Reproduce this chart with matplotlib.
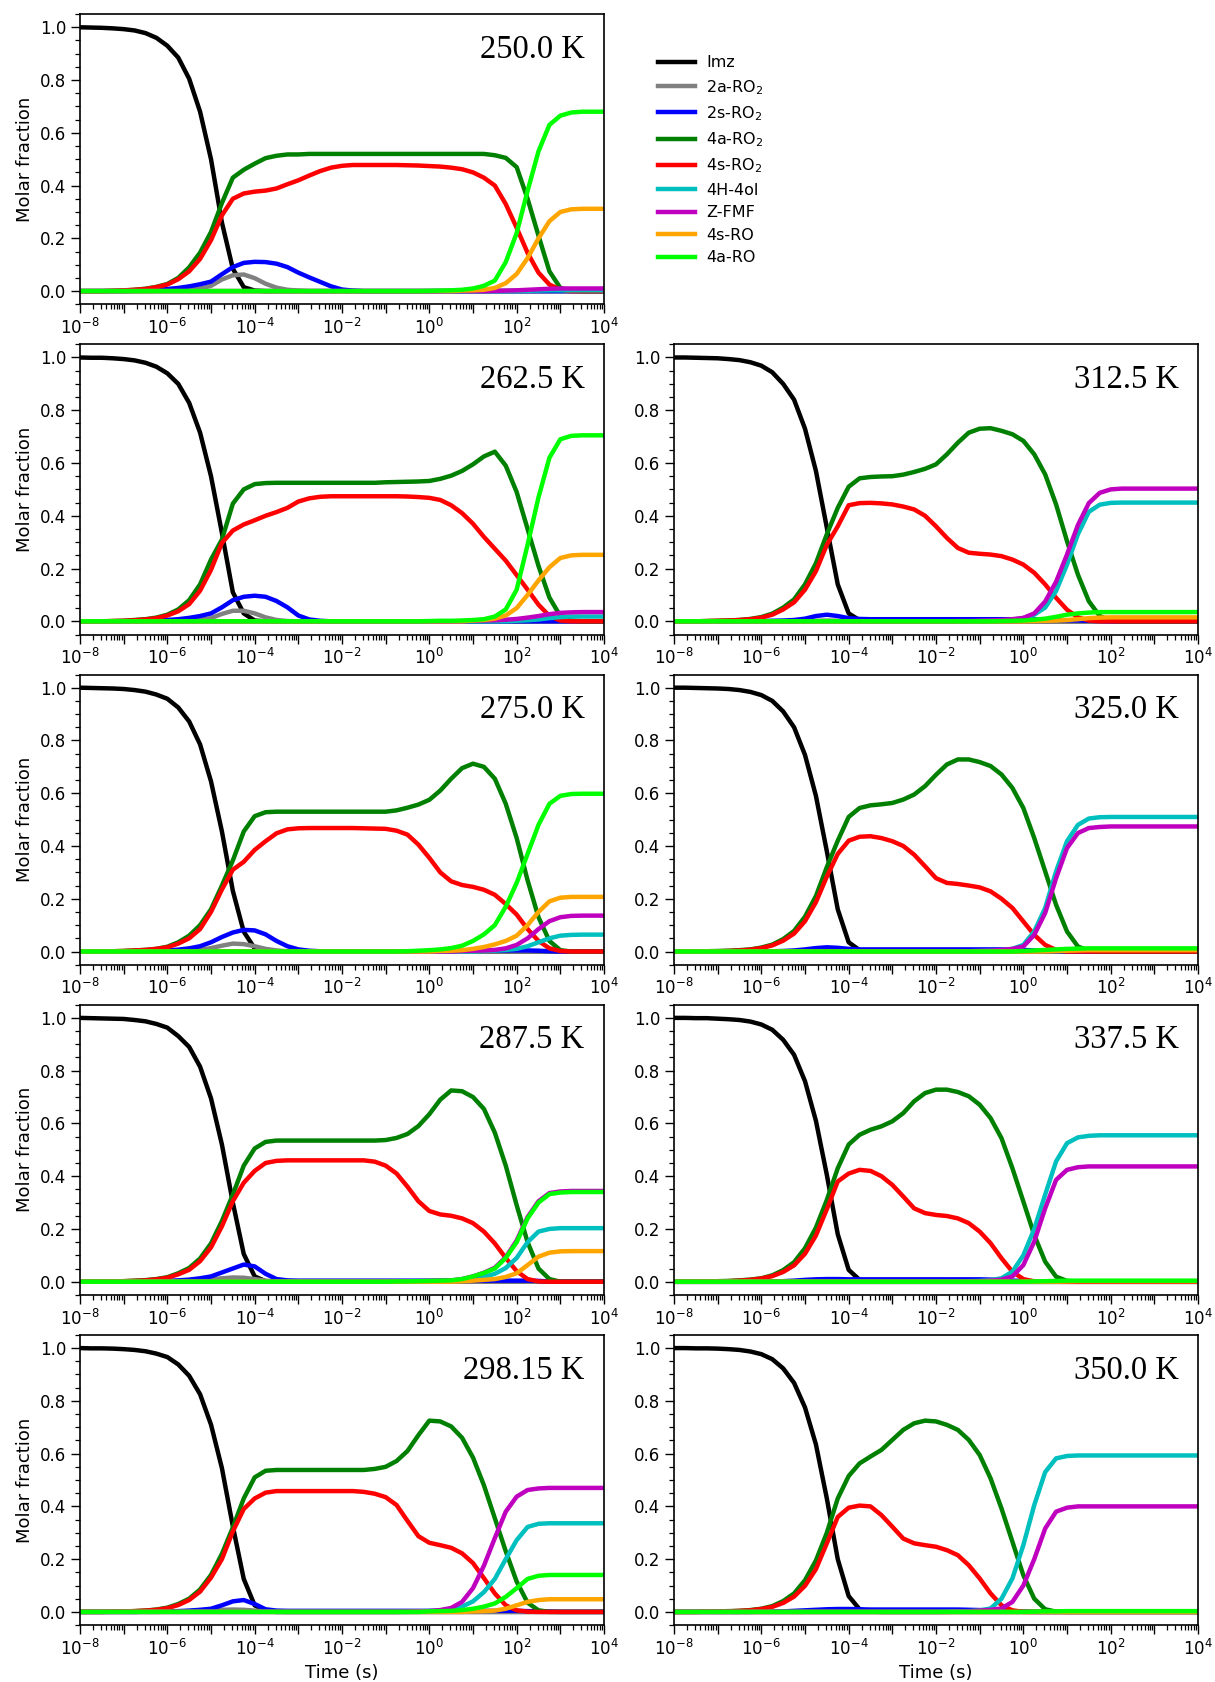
import numpy as np
import matplotlib
matplotlib.use("Agg")
import matplotlib.pyplot as plt
from matplotlib.lines import Line2D
from matplotlib.ticker import FixedLocator, FuncFormatter, LogLocator, MultipleLocator, NullFormatter

log_time = np.linspace(-8, 4, 49)
time = 10 ** log_time

species = ["Imz", "2a-RO$_2$", "2s-RO$_2$", "4a-RO$_2$", "4s-RO$_2$",
           "4H-4ol", "Z-FMF", "4s-RO", "4a-RO"]
colors = ["black", "grey", "blue", "green", "red", "c", "m", "orange", "lime"]

# ---------------- 250.0 K ----------------
imz_250 = [1, 0.999, 0.998, 0.996, 0.993, 0.988, 0.978, 0.96,
           0.93, 0.885, 0.805, 0.68, 0.5, 0.26, 0.085, 0.015,
           0.002, 0, 0, 0, 0, 0, 0, 0,
           0, 0, 0, 0, 0, 0, 0, 0,
           0, 0, 0, 0, 0, 0, 0, 0,
           0, 0, 0, 0, 0, 0, 0, 0, 0]
a2_250 = [0, 0, 0, 0, 0, 0, 0, 0.001,
          0.002, 0.003, 0.005, 0.01, 0.02, 0.044, 0.06, 0.063,
          0.049, 0.028, 0.013, 0.005, 0.002, 0, 0, 0,
          0, 0, 0, 0, 0, 0, 0, 0,
          0, 0, 0, 0, 0, 0, 0, 0,
          0, 0, 0, 0, 0, 0, 0, 0, 0]
s2_250 = [0, 0, 0, 0, 0, 0.001, 0.003, 0.005,
          0.008, 0.012, 0.018, 0.026, 0.036, 0.064, 0.091, 0.107,
          0.111, 0.11, 0.104, 0.091, 0.07, 0.052, 0.035, 0.018,
          0.006, 0.002, 0, 0, 0, 0, 0, 0,
          0, 0, 0, 0, 0, 0, 0, 0,
          0, 0, 0, 0, 0, 0, 0, 0, 0]
a4_250 = [0, 0, 0, 0.001, 0.002, 0.005, 0.009, 0.016,
          0.027, 0.05, 0.09, 0.146, 0.224, 0.334, 0.43, 0.46,
          0.483, 0.504, 0.513, 0.518, 0.518, 0.52, 0.52, 0.52,
          0.52, 0.52, 0.52, 0.52, 0.52, 0.52, 0.52, 0.52,
          0.52, 0.52, 0.52, 0.52, 0.52, 0.52, 0.515, 0.505,
          0.47, 0.35, 0.21, 0.075, 0.012, 0.002, 0, 0, 0]
s4_250 = [0, 0, 0, 0.001, 0.003, 0.005, 0.008, 0.015,
          0.025, 0.045, 0.075, 0.122, 0.193, 0.287, 0.35, 0.37,
          0.377, 0.381, 0.389, 0.405, 0.42, 0.438, 0.455, 0.468,
          0.475, 0.478, 0.478, 0.478, 0.478, 0.478, 0.477, 0.476,
          0.474, 0.472, 0.468, 0.462, 0.45, 0.43, 0.4, 0.33,
          0.24, 0.145, 0.07, 0.025, 0.005, 0, 0, 0, 0]
ol_250 = [0, 0, 0, 0, 0, 0, 0, 0,
          0, 0, 0, 0, 0, 0, 0, 0,
          0, 0, 0, 0, 0, 0, 0, 0,
          0, 0, 0, 0, 0, 0, 0, 0,
          0, 0, 0, 0, 0, 0, 0, 0,
          0, 0.001, 0.002, 0.003, 0.003, 0.003, 0.003, 0.003, 0.003]
fmf_250 = [0, 0, 0, 0, 0, 0, 0, 0,
           0, 0, 0, 0, 0, 0, 0, 0,
           0, 0, 0, 0, 0, 0, 0, 0,
           0, 0, 0, 0, 0, 0, 0, 0,
           0, 0, 0, 0, 0, 0, 0.001, 0.002,
           0.003, 0.005, 0.007, 0.009, 0.01, 0.01, 0.01, 0.01, 0.01]
sro_250 = [0, 0, 0, 0, 0, 0, 0, 0,
           0, 0, 0, 0, 0, 0, 0, 0,
           0, 0, 0, 0, 0, 0, 0, 0,
           0, 0, 0, 0, 0, 0, 0, 0,
           0, 0, 0, 0.002, 0.003, 0.005, 0.012, 0.03,
           0.065, 0.125, 0.2, 0.265, 0.3, 0.31, 0.312, 0.312, 0.312]
aro_250 = [0, 0, 0, 0, 0, 0, 0, 0,
           0, 0, 0, 0, 0, 0, 0, 0,
           0, 0, 0, 0, 0, 0, 0, 0,
           0, 0, 0, 0, 0, 0, 0, 0,
           0.001, 0.002, 0.003, 0.005, 0.01, 0.02, 0.04, 0.11,
           0.22, 0.38, 0.53, 0.63, 0.665, 0.677, 0.68, 0.68, 0.68]

# ---------------- 262.5 K ----------------
imz_262 = [1, 0.999, 0.999, 0.997, 0.994, 0.989, 0.98, 0.965,
           0.94, 0.9, 0.828, 0.715, 0.55, 0.335, 0.11, 0.03,
           0.003, 0, 0, 0, 0, 0, 0, 0,
           0, 0, 0, 0, 0, 0, 0, 0,
           0, 0, 0, 0, 0, 0, 0, 0,
           0, 0, 0, 0, 0, 0, 0, 0, 0]
a2_262 = [0, 0, 0, 0, 0, 0, 0, 0.001,
          0.002, 0.003, 0.004, 0.006, 0.012, 0.028, 0.04, 0.04,
          0.03, 0.015, 0.005, 0.001, 0, 0, 0, 0,
          0, 0, 0, 0, 0, 0, 0, 0,
          0, 0, 0, 0, 0, 0, 0, 0,
          0, 0, 0, 0, 0, 0, 0, 0, 0]
s2_262 = [0, 0, 0, 0, 0, 0.001, 0.002, 0.003,
          0.005, 0.008, 0.013, 0.02, 0.03, 0.053, 0.08, 0.093,
          0.097, 0.093, 0.077, 0.053, 0.022, 0.007, 0.002, 0,
          0, 0, 0, 0, 0, 0, 0, 0,
          0, 0, 0, 0, 0, 0, 0, 0,
          0, 0, 0, 0, 0, 0, 0, 0, 0]
a4_262 = [0, 0, 0, 0.001, 0.002, 0.005, 0.008, 0.014,
          0.025, 0.045, 0.08, 0.14, 0.234, 0.31, 0.446, 0.5,
          0.52, 0.524, 0.525, 0.525, 0.525, 0.525, 0.525, 0.525,
          0.525, 0.525, 0.525, 0.525, 0.527, 0.528, 0.529, 0.53,
          0.532, 0.54, 0.552, 0.57, 0.595, 0.625, 0.643, 0.59,
          0.49, 0.35, 0.21, 0.09, 0.02, 0.003, 0, 0, 0]
s4_262 = [0, 0, 0, 0.001, 0.002, 0.004, 0.007, 0.012,
          0.022, 0.038, 0.065, 0.116, 0.195, 0.297, 0.344, 0.367,
          0.383, 0.4, 0.414, 0.43, 0.454, 0.466, 0.472, 0.474,
          0.474, 0.474, 0.474, 0.474, 0.474, 0.474, 0.473, 0.471,
          0.468, 0.46, 0.44, 0.41, 0.37, 0.32, 0.275, 0.23,
          0.175, 0.12, 0.063, 0.02, 0.003, 0, 0, 0, 0]
ol_262 = [0, 0, 0, 0, 0, 0, 0, 0,
          0, 0, 0, 0, 0, 0, 0, 0,
          0, 0, 0, 0, 0, 0, 0, 0,
          0, 0, 0, 0, 0, 0, 0, 0,
          0, 0, 0, 0, 0, 0, 0, 0,
          0.002, 0.004, 0.007, 0.012, 0.016, 0.018, 0.018, 0.018, 0.018]
fmf_262 = [0, 0, 0, 0, 0, 0, 0, 0,
           0, 0, 0, 0, 0, 0, 0, 0,
           0, 0, 0, 0, 0, 0, 0, 0,
           0, 0, 0, 0, 0, 0, 0, 0,
           0, 0, 0, 0, 0.002, 0.003, 0.004, 0.006,
           0.009, 0.014, 0.02, 0.027, 0.032, 0.034, 0.035, 0.035, 0.035]
sro_262 = [0, 0, 0, 0, 0, 0, 0, 0,
           0, 0, 0, 0, 0, 0, 0, 0,
           0, 0, 0, 0, 0, 0, 0, 0,
           0, 0, 0, 0, 0, 0, 0, 0,
           0, 0, 0, 0, 0.003, 0.005, 0.01, 0.022,
           0.05, 0.1, 0.155, 0.205, 0.24, 0.25, 0.252, 0.252, 0.252]
aro_262 = [0, 0, 0, 0, 0, 0, 0, 0,
           0, 0, 0, 0, 0, 0, 0, 0,
           0, 0, 0, 0, 0, 0, 0, 0,
           0, 0, 0, 0, 0, 0, 0, 0,
           0.001, 0.002, 0.002, 0.003, 0.005, 0.008, 0.018, 0.045,
           0.12, 0.29, 0.47, 0.62, 0.69, 0.703, 0.705, 0.705, 0.705]

# ---------------- 275.0 K ----------------
imz_275 = [1, 0.999, 0.998, 0.997, 0.995, 0.991, 0.985, 0.974,
           0.958, 0.925, 0.872, 0.785, 0.645, 0.455, 0.23, 0.075,
           0.012, 0.001, 0, 0, 0, 0, 0, 0,
           0, 0, 0, 0, 0, 0, 0, 0,
           0, 0, 0, 0, 0, 0, 0, 0,
           0, 0, 0, 0, 0, 0, 0, 0, 0]
a2_275 = [0, 0, 0, 0, 0, 0, 0, 0.001,
          0.002, 0.003, 0.004, 0.006, 0.013, 0.022, 0.03, 0.028,
          0.02, 0.01, 0.004, 0.001, 0, 0, 0, 0,
          0, 0, 0, 0, 0, 0, 0, 0,
          0, 0, 0, 0, 0, 0, 0, 0,
          0, 0, 0, 0, 0, 0, 0, 0, 0]
s2_275 = [0, 0, 0, 0, 0, 0.001, 0.001, 0.002,
          0.004, 0.007, 0.012, 0.02, 0.035, 0.055, 0.072, 0.082,
          0.08, 0.065, 0.04, 0.02, 0.008, 0.003, 0.001, 0.001,
          0.001, 0.001, 0.001, 0.001, 0.001, 0.001, 0.001, 0.001,
          0.001, 0.001, 0.002, 0.002, 0.003, 0.003, 0.003, 0.004,
          0.004, 0.004, 0.003, 0.001, 0, 0, 0, 0, 0]
a4_275 = [0, 0, 0, 0.001, 0.002, 0.004, 0.006, 0.01,
          0.018, 0.035, 0.06, 0.1, 0.16, 0.25, 0.345, 0.455,
          0.513, 0.528, 0.53, 0.53, 0.53, 0.53, 0.53, 0.53,
          0.53, 0.53, 0.53, 0.53, 0.53, 0.535, 0.545, 0.557,
          0.575, 0.61, 0.655, 0.695, 0.712, 0.7, 0.655, 0.56,
          0.43, 0.27, 0.13, 0.04, 0.005, 0, 0, 0, 0]
s4_275 = [0, 0, 0, 0.001, 0.002, 0.004, 0.006, 0.01,
          0.016, 0.03, 0.05, 0.085, 0.15, 0.235, 0.31, 0.34,
          0.385, 0.418, 0.448, 0.463, 0.467, 0.468, 0.468, 0.468,
          0.468, 0.468, 0.467, 0.466, 0.465, 0.458, 0.443, 0.405,
          0.355, 0.3, 0.266, 0.252, 0.245, 0.234, 0.215, 0.18,
          0.14, 0.085, 0.04, 0.012, 0.002, 0, 0, 0, 0]
ol_275 = [0, 0, 0, 0, 0, 0, 0, 0,
          0, 0, 0, 0, 0, 0, 0, 0,
          0, 0, 0, 0, 0, 0, 0, 0,
          0, 0, 0, 0, 0, 0, 0, 0,
          0, 0, 0, 0, 0, 0.002, 0.003, 0.006,
          0.01, 0.02, 0.035, 0.05, 0.06, 0.063, 0.064, 0.064, 0.064]
fmf_275 = [0, 0, 0, 0, 0, 0, 0, 0,
           0, 0, 0, 0, 0, 0, 0, 0,
           0, 0, 0, 0, 0, 0, 0, 0,
           0, 0, 0, 0, 0, 0, 0, 0,
           0, 0, 0, 0.002, 0.003, 0.004, 0.006, 0.012,
           0.025, 0.05, 0.085, 0.115, 0.13, 0.135, 0.136, 0.136, 0.136]
sro_275 = [0, 0, 0, 0, 0, 0, 0, 0,
           0, 0, 0, 0, 0, 0, 0, 0,
           0, 0, 0, 0, 0, 0, 0, 0,
           0, 0, 0, 0, 0, 0, 0, 0,
           0, 0.002, 0.003, 0.005, 0.01, 0.017, 0.027, 0.04,
           0.06, 0.1, 0.15, 0.19, 0.204, 0.207, 0.207, 0.207, 0.207]
aro_275 = [0, 0, 0, 0, 0, 0, 0, 0,
           0, 0, 0, 0, 0, 0, 0, 0,
           0, 0, 0, 0, 0, 0, 0, 0,
           0, 0, 0, 0, 0, 0, 0.001, 0.003,
           0.005, 0.008, 0.013, 0.022, 0.04, 0.065, 0.1, 0.17,
           0.26, 0.37, 0.48, 0.56, 0.59, 0.597, 0.598, 0.598, 0.598]

# ---------------- 287.5 K ----------------
imz_287 = [1, 0.999, 0.998, 0.997, 0.996, 0.992, 0.987, 0.977,
           0.963, 0.931, 0.89, 0.815, 0.695, 0.52, 0.3, 0.105,
           0.02, 0.002, 0, 0, 0, 0, 0, 0,
           0, 0, 0, 0, 0, 0, 0, 0,
           0, 0, 0, 0, 0, 0, 0, 0,
           0, 0, 0, 0, 0, 0, 0, 0, 0]
a2_287 = [0, 0, 0, 0, 0, 0, 0, 0.001,
          0.002, 0.003, 0.004, 0.006, 0.009, 0.013, 0.016, 0.015,
          0.01, 0.004, 0.001, 0, 0, 0, 0, 0,
          0, 0, 0, 0, 0, 0, 0, 0,
          0, 0, 0, 0, 0, 0, 0, 0,
          0, 0, 0, 0, 0, 0, 0, 0, 0]
s2_287 = [0, 0, 0, 0, 0, 0.001, 0.001, 0.002,
          0.003, 0.005, 0.008, 0.013, 0.02, 0.035, 0.05, 0.065,
          0.058, 0.03, 0.01, 0.005, 0.004, 0.004, 0.004, 0.004,
          0.004, 0.004, 0.004, 0.004, 0.004, 0.004, 0.004, 0.004,
          0.004, 0.004, 0.004, 0.004, 0.004, 0.004, 0.004, 0.004,
          0.004, 0.004, 0.003, 0.001, 0, 0, 0, 0, 0]
a4_287 = [0, 0, 0, 0.001, 0.002, 0.004, 0.006, 0.01,
          0.017, 0.032, 0.052, 0.088, 0.145, 0.23, 0.33, 0.44,
          0.505, 0.53, 0.535, 0.535, 0.535, 0.535, 0.535, 0.535,
          0.535, 0.535, 0.535, 0.535, 0.537, 0.545, 0.56, 0.59,
          0.635, 0.69, 0.725, 0.722, 0.7, 0.655, 0.565, 0.44,
          0.29, 0.15, 0.05, 0.01, 0, 0, 0, 0, 0]
s4_287 = [0, 0, 0, 0.001, 0.002, 0.003, 0.005, 0.009,
          0.015, 0.028, 0.045, 0.078, 0.13, 0.21, 0.305, 0.375,
          0.42, 0.45, 0.458, 0.46, 0.46, 0.46, 0.46, 0.46,
          0.46, 0.46, 0.46, 0.455, 0.44, 0.41, 0.36, 0.305,
          0.268, 0.255, 0.25, 0.24, 0.222, 0.19, 0.145, 0.09,
          0.04, 0.01, 0.001, 0, 0, 0, 0, 0, 0]
ol_287 = [0, 0, 0, 0, 0, 0, 0, 0,
          0, 0, 0, 0, 0, 0, 0, 0,
          0, 0, 0, 0, 0, 0, 0, 0,
          0, 0, 0, 0, 0, 0, 0, 0,
          0, 0.002, 0.003, 0.005, 0.01, 0.018, 0.03, 0.052,
          0.09, 0.15, 0.19, 0.2, 0.203, 0.203, 0.203, 0.203, 0.203]
fmf_287 = [0, 0, 0, 0, 0, 0, 0, 0,
           0, 0, 0, 0, 0, 0, 0, 0,
           0, 0, 0, 0, 0, 0, 0, 0,
           0, 0, 0, 0, 0, 0.001, 0.001, 0.002,
           0.003, 0.004, 0.005, 0.01, 0.02, 0.034, 0.053, 0.093,
           0.156, 0.245, 0.305, 0.336, 0.342, 0.344, 0.344, 0.344, 0.344]
sro_287 = [0, 0, 0, 0, 0, 0, 0, 0,
           0, 0, 0, 0, 0, 0, 0, 0,
           0, 0, 0, 0, 0, 0, 0, 0,
           0, 0, 0, 0, 0, 0, 0, 0,
           0, 0, 0, 0.002, 0.004, 0.007, 0.01, 0.018,
           0.032, 0.063, 0.095, 0.11, 0.115, 0.116, 0.116, 0.116, 0.116]
aro_287 = [0, 0, 0, 0, 0, 0, 0, 0,
           0, 0, 0, 0, 0, 0, 0, 0,
           0, 0, 0, 0, 0, 0, 0, 0,
           0, 0, 0, 0, 0, 0.001, 0.001, 0.002,
           0.003, 0.004, 0.005, 0.01, 0.02, 0.033, 0.05, 0.09,
           0.15, 0.24, 0.3, 0.332, 0.338, 0.34, 0.34, 0.34, 0.34]

# ---------------- 298.15 K ----------------
imz_298 = [1, 0.999, 0.999, 0.998, 0.996, 0.993, 0.988, 0.979,
           0.966, 0.938, 0.895, 0.825, 0.71, 0.545, 0.325, 0.125,
           0.025, 0.003, 0, 0, 0, 0, 0, 0,
           0, 0, 0, 0, 0, 0, 0, 0,
           0, 0, 0, 0, 0, 0, 0, 0,
           0, 0, 0, 0, 0, 0, 0, 0, 0]
a2_298 = [0, 0, 0, 0, 0, 0, 0, 0,
          0.001, 0.002, 0.003, 0.004, 0.006, 0.008, 0.009, 0.008,
          0.005, 0.002, 0.001, 0, 0, 0, 0, 0,
          0, 0, 0, 0, 0, 0, 0, 0,
          0, 0, 0, 0, 0, 0, 0, 0,
          0, 0, 0, 0, 0, 0, 0, 0, 0]
s2_298 = [0, 0, 0, 0, 0, 0, 0.001, 0.001,
          0.002, 0.003, 0.005, 0.008, 0.012, 0.025, 0.04, 0.045,
          0.03, 0.01, 0.005, 0.004, 0.004, 0.004, 0.004, 0.004,
          0.004, 0.004, 0.004, 0.004, 0.004, 0.004, 0.004, 0.004,
          0.004, 0.004, 0.004, 0.004, 0.004, 0.004, 0.004, 0.004,
          0.004, 0.003, 0.002, 0.001, 0, 0, 0, 0, 0]
a4_298 = [0, 0, 0, 0.001, 0.002, 0.003, 0.005, 0.009,
          0.016, 0.03, 0.05, 0.085, 0.14, 0.22, 0.32, 0.43,
          0.51, 0.535, 0.538, 0.538, 0.538, 0.538, 0.538, 0.538,
          0.538, 0.538, 0.538, 0.542, 0.55, 0.572, 0.61, 0.67,
          0.725, 0.722, 0.703, 0.66, 0.585, 0.48, 0.355, 0.23,
          0.115, 0.035, 0.006, 0, 0, 0, 0, 0, 0]
s4_298 = [0, 0, 0, 0.001, 0.002, 0.003, 0.005, 0.008,
          0.014, 0.026, 0.045, 0.077, 0.13, 0.2, 0.305, 0.39,
          0.43, 0.452, 0.458, 0.458, 0.458, 0.458, 0.458, 0.458,
          0.458, 0.458, 0.455, 0.448, 0.435, 0.405, 0.345, 0.287,
          0.262, 0.253, 0.243, 0.222, 0.185, 0.128, 0.07, 0.025,
          0.006, 0.001, 0, 0, 0, 0, 0, 0, 0]
ol_298 = [0, 0, 0, 0, 0, 0, 0, 0,
          0, 0, 0, 0, 0, 0, 0, 0,
          0, 0, 0, 0, 0, 0, 0, 0,
          0, 0, 0, 0, 0, 0, 0, 0.002,
          0.003, 0.005, 0.01, 0.02, 0.04, 0.075, 0.125, 0.2,
          0.272, 0.322, 0.334, 0.336, 0.336, 0.336, 0.336, 0.336, 0.336]
fmf_298 = [0, 0, 0, 0, 0, 0, 0, 0,
           0, 0, 0, 0, 0, 0, 0, 0,
           0, 0, 0, 0, 0, 0, 0, 0,
           0, 0, 0, 0, 0, 0, 0.001, 0.002,
           0.003, 0.007, 0.015, 0.038, 0.09, 0.175, 0.28, 0.38,
           0.437, 0.462, 0.468, 0.47, 0.47, 0.47, 0.47, 0.47, 0.47]
sro_298 = [0, 0, 0, 0, 0, 0, 0, 0,
           0, 0, 0, 0, 0, 0, 0, 0,
           0, 0, 0, 0, 0, 0, 0, 0,
           0, 0, 0, 0, 0, 0, 0, 0,
           0, 0, 0, 0, 0.002, 0.003, 0.005, 0.012,
           0.025, 0.038, 0.045, 0.048, 0.048, 0.048, 0.048, 0.048, 0.048]
aro_298 = [0, 0, 0, 0, 0, 0, 0, 0,
           0, 0, 0, 0, 0, 0, 0, 0,
           0, 0, 0, 0, 0, 0, 0, 0,
           0, 0, 0, 0, 0, 0, 0, 0,
           0.002, 0.003, 0.004, 0.007, 0.012, 0.02, 0.032, 0.057,
           0.09, 0.125, 0.137, 0.14, 0.14, 0.14, 0.14, 0.14, 0.14]

# ---------------- 312.5 K ----------------
imz_312 = [1, 1, 0.999, 0.998, 0.997, 0.994, 0.99, 0.982,
           0.969, 0.944, 0.9, 0.84, 0.73, 0.57, 0.355, 0.14,
           0.03, 0.004, 0, 0, 0, 0, 0, 0,
           0, 0, 0, 0, 0, 0, 0, 0,
           0, 0, 0, 0, 0, 0, 0, 0,
           0, 0, 0, 0, 0, 0, 0, 0, 0]
a2_312 = [0, 0, 0, 0, 0, 0, 0, 0,
          0, 0, 0, 0, 0.001, 0.002, 0.003, 0.002,
          0.001, 0, 0, 0, 0, 0, 0, 0,
          0, 0, 0, 0, 0, 0, 0, 0,
          0, 0, 0, 0, 0, 0, 0, 0,
          0, 0, 0, 0, 0, 0, 0, 0, 0]
s2_312 = [0, 0, 0, 0, 0, 0, 0, 0.001,
          0.001, 0.002, 0.003, 0.005, 0.01, 0.02, 0.025, 0.02,
          0.012, 0.009, 0.008, 0.008, 0.008, 0.008, 0.008, 0.008,
          0.008, 0.008, 0.008, 0.008, 0.008, 0.008, 0.008, 0.008,
          0.008, 0.007, 0.006, 0.005, 0.004, 0.003, 0.002, 0.001,
          0, 0, 0, 0, 0, 0, 0, 0, 0]
a4_312 = [0, 0, 0, 0.001, 0.002, 0.003, 0.005, 0.009,
          0.016, 0.029, 0.052, 0.083, 0.14, 0.22, 0.33, 0.43,
          0.51, 0.542, 0.547, 0.549, 0.55, 0.556, 0.566, 0.578,
          0.595, 0.633, 0.677, 0.715, 0.73, 0.732, 0.722, 0.709,
          0.684, 0.633, 0.557, 0.443, 0.304, 0.177, 0.076, 0.02,
          0.002, 0, 0, 0, 0, 0, 0, 0, 0]
s4_312 = [0, 0, 0, 0.001, 0.002, 0.003, 0.005, 0.008,
          0.014, 0.025, 0.045, 0.072, 0.12, 0.19, 0.29, 0.36,
          0.44, 0.448, 0.449, 0.447, 0.443, 0.435, 0.424, 0.4,
          0.36, 0.316, 0.278, 0.26, 0.256, 0.253, 0.247, 0.234,
          0.215, 0.184, 0.14, 0.089, 0.044, 0.015, 0.003, 0,
          0, 0, 0, 0, 0, 0, 0, 0, 0]
ol_312 = [0, 0, 0, 0, 0, 0, 0, 0,
          0, 0, 0, 0, 0, 0, 0, 0,
          0, 0, 0, 0, 0, 0, 0, 0,
          0, 0, 0, 0, 0.001, 0.002, 0.003, 0.006,
          0.012, 0.025, 0.052, 0.115, 0.215, 0.33, 0.415, 0.442,
          0.449, 0.45, 0.45, 0.45, 0.45, 0.45, 0.45, 0.45, 0.45]
fmf_312 = [0, 0, 0, 0, 0, 0, 0, 0,
           0, 0, 0, 0, 0, 0, 0, 0,
           0, 0, 0, 0, 0, 0, 0, 0,
           0, 0, 0.001, 0.001, 0.002, 0.003, 0.005, 0.008,
           0.013, 0.03, 0.075, 0.15, 0.253, 0.365, 0.448, 0.487,
           0.5, 0.503, 0.503, 0.503, 0.503, 0.503, 0.503, 0.503, 0.503]
sro_312 = [0, 0, 0, 0, 0, 0, 0, 0,
           0, 0, 0, 0, 0, 0, 0, 0,
           0, 0, 0, 0, 0, 0, 0, 0,
           0, 0, 0, 0, 0, 0, 0, 0,
           0, 0.001, 0.002, 0.003, 0.005, 0.008, 0.012, 0.014,
           0.015, 0.015, 0.015, 0.015, 0.015, 0.015, 0.015, 0.015, 0.015]
aro_312 = [0, 0, 0, 0, 0, 0, 0, 0,
           0, 0, 0, 0, 0, 0, 0, 0,
           0, 0, 0, 0, 0, 0, 0, 0,
           0, 0, 0, 0, 0, 0, 0.001, 0.002,
           0.003, 0.006, 0.01, 0.017, 0.025, 0.03, 0.033, 0.035,
           0.035, 0.035, 0.035, 0.035, 0.035, 0.035, 0.035, 0.035, 0.035]

# ---------------- 325.0 K ----------------
imz_325 = [1, 1, 0.999, 0.998, 0.997, 0.995, 0.991, 0.984,
           0.972, 0.95, 0.91, 0.85, 0.745, 0.59, 0.38, 0.16,
           0.035, 0.005, 0, 0, 0, 0, 0, 0,
           0, 0, 0, 0, 0, 0, 0, 0,
           0, 0, 0, 0, 0, 0, 0, 0,
           0, 0, 0, 0, 0, 0, 0, 0, 0]
a2_325 = [0, 0, 0, 0, 0, 0, 0, 0,
          0, 0, 0, 0, 0, 0.001, 0.001, 0,
          0, 0, 0, 0, 0, 0, 0, 0,
          0, 0, 0, 0, 0, 0, 0, 0,
          0, 0, 0, 0, 0, 0, 0, 0,
          0, 0, 0, 0, 0, 0, 0, 0, 0]
s2_325 = [0, 0, 0, 0, 0, 0, 0, 0,
          0.001, 0.001, 0.002, 0.004, 0.008, 0.013, 0.016, 0.014,
          0.01, 0.008, 0.008, 0.008, 0.008, 0.008, 0.008, 0.008,
          0.008, 0.008, 0.008, 0.008, 0.008, 0.008, 0.008, 0.007,
          0.006, 0.004, 0.003, 0.002, 0.001, 0, 0, 0,
          0, 0, 0, 0, 0, 0, 0, 0, 0]
a4_325 = [0, 0, 0, 0.001, 0.002, 0.003, 0.005, 0.008,
          0.015, 0.026, 0.047, 0.078, 0.132, 0.21, 0.32, 0.42,
          0.51, 0.544, 0.554, 0.558, 0.563, 0.576, 0.595, 0.627,
          0.67, 0.709, 0.728, 0.728, 0.718, 0.703, 0.671, 0.62,
          0.544, 0.43, 0.304, 0.177, 0.076, 0.019, 0.003, 0,
          0, 0, 0, 0, 0, 0, 0, 0, 0]
s4_325 = [0, 0, 0, 0.001, 0.001, 0.002, 0.004, 0.007,
          0.013, 0.023, 0.041, 0.068, 0.115, 0.187, 0.284, 0.37,
          0.42, 0.435, 0.437, 0.43, 0.418, 0.4, 0.367, 0.323,
          0.278, 0.26, 0.256, 0.25, 0.243, 0.228, 0.2, 0.165,
          0.114, 0.063, 0.025, 0.006, 0, 0, 0, 0,
          0, 0, 0, 0, 0, 0, 0, 0, 0]
ol_325 = [0, 0, 0, 0, 0, 0, 0, 0,
          0, 0, 0, 0, 0, 0, 0, 0,
          0, 0, 0, 0, 0, 0, 0, 0,
          0, 0, 0, 0.001, 0.002, 0.003, 0.005, 0.01,
          0.025, 0.076, 0.165, 0.304, 0.418, 0.48, 0.504, 0.509,
          0.51, 0.51, 0.51, 0.51, 0.51, 0.51, 0.51, 0.51, 0.51]
fmf_325 = [0, 0, 0, 0, 0, 0, 0, 0,
           0, 0, 0, 0, 0, 0, 0, 0,
           0, 0, 0, 0, 0, 0, 0, 0,
           0, 0, 0, 0.001, 0.002, 0.003, 0.006, 0.01,
           0.019, 0.063, 0.146, 0.278, 0.392, 0.449, 0.468, 0.472,
           0.474, 0.474, 0.474, 0.474, 0.474, 0.474, 0.474, 0.474, 0.474]
sro_325 = [0, 0, 0, 0, 0, 0, 0, 0,
           0, 0, 0, 0, 0, 0, 0, 0,
           0, 0, 0, 0, 0, 0, 0, 0,
           0, 0, 0, 0, 0, 0, 0, 0,
           0, 0, 0.001, 0.002, 0.003, 0.004, 0.005, 0.005,
           0.005, 0.005, 0.005, 0.005, 0.005, 0.005, 0.005, 0.005, 0.005]
aro_325 = [0, 0, 0, 0, 0, 0, 0, 0,
           0, 0, 0, 0, 0, 0, 0, 0,
           0, 0, 0, 0, 0, 0, 0, 0,
           0, 0, 0, 0, 0, 0, 0, 0,
           0.002, 0.004, 0.006, 0.008, 0.01, 0.011, 0.012, 0.012,
           0.012, 0.012, 0.012, 0.012, 0.012, 0.012, 0.012, 0.012, 0.012]

# ---------------- 337.5 K ----------------
imz_337 = [1, 1, 0.999, 0.999, 0.997, 0.995, 0.992, 0.986,
           0.975, 0.955, 0.917, 0.86, 0.76, 0.61, 0.405, 0.18,
           0.045, 0.007, 0, 0, 0, 0, 0, 0,
           0, 0, 0, 0, 0, 0, 0, 0,
           0, 0, 0, 0, 0, 0, 0, 0,
           0, 0, 0, 0, 0, 0, 0, 0, 0]
a2_337 = [0, 0, 0, 0, 0, 0, 0, 0,
          0, 0, 0, 0, 0, 0, 0, 0,
          0, 0, 0, 0, 0, 0, 0, 0,
          0, 0, 0, 0, 0, 0, 0, 0,
          0, 0, 0, 0, 0, 0, 0, 0,
          0, 0, 0, 0, 0, 0, 0, 0, 0]
s2_337 = [0, 0, 0, 0, 0, 0, 0, 0,
          0.001, 0.001, 0.002, 0.004, 0.007, 0.009, 0.01, 0.01,
          0.009, 0.009, 0.009, 0.009, 0.009, 0.009, 0.009, 0.009,
          0.009, 0.009, 0.009, 0.009, 0.009, 0.008, 0.006, 0.004,
          0.003, 0.002, 0.001, 0, 0, 0, 0, 0,
          0, 0, 0, 0, 0, 0, 0, 0, 0]
a4_337 = [0, 0, 0, 0.001, 0.002, 0.003, 0.005, 0.008,
          0.013, 0.024, 0.044, 0.074, 0.127, 0.205, 0.31, 0.43,
          0.52, 0.557, 0.576, 0.589, 0.608, 0.639, 0.684, 0.715,
          0.728, 0.728, 0.719, 0.703, 0.671, 0.62, 0.544, 0.43,
          0.304, 0.177, 0.076, 0.019, 0.003, 0, 0, 0,
          0, 0, 0, 0, 0, 0, 0, 0, 0]
s4_337 = [0, 0, 0, 0.001, 0.001, 0.002, 0.004, 0.007,
          0.012, 0.021, 0.037, 0.062, 0.106, 0.175, 0.275, 0.38,
          0.41, 0.424, 0.42, 0.4, 0.367, 0.323, 0.278, 0.26,
          0.253, 0.249, 0.24, 0.222, 0.19, 0.146, 0.089, 0.038,
          0.01, 0.001, 0, 0, 0, 0, 0, 0,
          0, 0, 0, 0, 0, 0, 0, 0, 0]
ol_337 = [0, 0, 0, 0, 0, 0, 0, 0,
          0, 0, 0, 0, 0, 0, 0, 0,
          0, 0, 0, 0, 0, 0, 0, 0,
          0, 0, 0.001, 0.002, 0.003, 0.006, 0.013, 0.038,
          0.1, 0.2, 0.33, 0.456, 0.525, 0.547, 0.553, 0.555,
          0.555, 0.555, 0.555, 0.555, 0.555, 0.555, 0.555, 0.555, 0.555]
fmf_337 = [0, 0, 0, 0, 0, 0, 0, 0,
           0, 0, 0, 0, 0, 0, 0, 0,
           0, 0, 0, 0, 0, 0, 0, 0,
           0, 0, 0, 0.001, 0.002, 0.004, 0.008, 0.02,
           0.063, 0.152, 0.278, 0.386, 0.424, 0.434, 0.437, 0.437,
           0.437, 0.437, 0.437, 0.437, 0.437, 0.437, 0.437, 0.437, 0.437]
sro_337 = [0, 0, 0, 0, 0, 0, 0, 0,
           0, 0, 0, 0, 0, 0, 0, 0,
           0, 0, 0, 0, 0, 0, 0, 0,
           0, 0, 0, 0, 0, 0, 0, 0,
           0, 0, 0, 0, 0.001, 0.002, 0.002, 0.002,
           0.002, 0.002, 0.002, 0.002, 0.002, 0.002, 0.002, 0.002, 0.002]
aro_337 = [0, 0, 0, 0, 0, 0, 0, 0,
           0, 0, 0, 0, 0, 0, 0, 0,
           0, 0, 0, 0, 0, 0, 0, 0,
           0, 0, 0, 0, 0, 0, 0, 0,
           0, 0.001, 0.002, 0.003, 0.004, 0.004, 0.004, 0.004,
           0.004, 0.004, 0.004, 0.004, 0.004, 0.004, 0.004, 0.004, 0.004]

# ---------------- 350.0 K ----------------
imz_350 = [1, 1, 0.999, 0.999, 0.998, 0.996, 0.993, 0.987,
           0.977, 0.958, 0.923, 0.868, 0.775, 0.635, 0.43, 0.2,
           0.06, 0.01, 0.001, 0, 0, 0, 0, 0,
           0, 0, 0, 0, 0, 0, 0, 0,
           0, 0, 0, 0, 0, 0, 0, 0,
           0, 0, 0, 0, 0, 0, 0, 0, 0]
a2_350 = [0, 0, 0, 0, 0, 0, 0, 0,
          0, 0, 0, 0, 0, 0, 0, 0,
          0, 0, 0, 0, 0, 0, 0, 0,
          0, 0, 0, 0, 0, 0, 0, 0,
          0, 0, 0, 0, 0, 0, 0, 0,
          0, 0, 0, 0, 0, 0, 0, 0, 0]
s2_350 = [0, 0, 0, 0, 0, 0, 0, 0,
          0.001, 0.001, 0.002, 0.004, 0.006, 0.008, 0.01, 0.011,
          0.011, 0.01, 0.009, 0.009, 0.009, 0.009, 0.009, 0.009,
          0.009, 0.009, 0.009, 0.008, 0.007, 0.005, 0.003, 0.002,
          0.001, 0, 0, 0, 0, 0, 0, 0,
          0, 0, 0, 0, 0, 0, 0, 0, 0]
a4_350 = [0, 0, 0, 0.001, 0.002, 0.003, 0.004, 0.007,
          0.012, 0.022, 0.041, 0.07, 0.12, 0.195, 0.3, 0.43,
          0.515, 0.563, 0.589, 0.614, 0.652, 0.69, 0.715, 0.725,
          0.722, 0.709, 0.69, 0.652, 0.595, 0.506, 0.392, 0.266,
          0.139, 0.05, 0.01, 0.001, 0, 0, 0, 0,
          0, 0, 0, 0, 0, 0, 0, 0, 0]
s4_350 = [0, 0, 0, 0.001, 0.001, 0.002, 0.004, 0.006,
          0.011, 0.019, 0.034, 0.058, 0.099, 0.162, 0.26, 0.36,
          0.395, 0.403, 0.4, 0.367, 0.323, 0.278, 0.26, 0.253,
          0.247, 0.234, 0.215, 0.177, 0.127, 0.07, 0.025, 0.006,
          0, 0, 0, 0, 0, 0, 0, 0,
          0, 0, 0, 0, 0, 0, 0, 0, 0]
ol_350 = [0, 0, 0, 0, 0, 0, 0, 0,
          0, 0, 0, 0, 0, 0, 0, 0,
          0, 0, 0, 0, 0, 0, 0, 0,
          0, 0.001, 0.002, 0.003, 0.006, 0.013, 0.05, 0.127,
          0.253, 0.405, 0.53, 0.582, 0.591, 0.593, 0.593, 0.593,
          0.593, 0.593, 0.593, 0.593, 0.593, 0.593, 0.593, 0.593, 0.593]
fmf_350 = [0, 0, 0, 0, 0, 0, 0, 0,
           0, 0, 0, 0, 0, 0, 0, 0,
           0, 0, 0, 0, 0, 0, 0, 0,
           0, 0, 0.001, 0.002, 0.005, 0.008, 0.013, 0.038,
           0.1, 0.2, 0.316, 0.38, 0.395, 0.4, 0.4, 0.4,
           0.4, 0.4, 0.4, 0.4, 0.4, 0.4, 0.4, 0.4, 0.4]
sro_350 = [0, 0, 0, 0, 0, 0, 0, 0,
           0, 0, 0, 0, 0, 0, 0, 0,
           0, 0, 0, 0, 0, 0, 0, 0,
           0, 0, 0, 0, 0, 0, 0, 0,
           0, 0, 0, 0, 0, 0, 0, 0,
           0, 0, 0, 0, 0, 0, 0, 0, 0]
aro_350 = [0, 0, 0, 0, 0, 0, 0, 0,
           0, 0, 0, 0, 0, 0, 0, 0,
           0, 0, 0, 0, 0, 0, 0, 0,
           0, 0, 0, 0, 0, 0, 0, 0,
           0, 0.001, 0.002, 0.002, 0.003, 0.003, 0.003, 0.003,
           0.003, 0.003, 0.003, 0.003, 0.003, 0.003, 0.003, 0.003, 0.003]

# (label, column, row, series in legend order)
panels = [
    ("250.0 K", 0, 0, [imz_250, a2_250, s2_250, a4_250, s4_250, ol_250, fmf_250, sro_250, aro_250]),
    ("262.5 K", 0, 1, [imz_262, a2_262, s2_262, a4_262, s4_262, ol_262, fmf_262, sro_262, aro_262]),
    ("275.0 K", 0, 2, [imz_275, a2_275, s2_275, a4_275, s4_275, ol_275, fmf_275, sro_275, aro_275]),
    ("287.5 K", 0, 3, [imz_287, a2_287, s2_287, a4_287, s4_287, ol_287, fmf_287, sro_287, aro_287]),
    ("298.15 K", 0, 4, [imz_298, a2_298, s2_298, a4_298, s4_298, ol_298, fmf_298, sro_298, aro_298]),
    ("312.5 K", 1, 1, [imz_312, a2_312, s2_312, a4_312, s4_312, ol_312, fmf_312, sro_312, aro_312]),
    ("325.0 K", 1, 2, [imz_325, a2_325, s2_325, a4_325, s4_325, ol_325, fmf_325, sro_325, aro_325]),
    ("337.5 K", 1, 3, [imz_337, a2_337, s2_337, a4_337, s4_337, ol_337, fmf_337, sro_337, aro_337]),
    ("350.0 K", 1, 4, [imz_350, a2_350, s2_350, a4_350, s4_350, ol_350, fmf_350, sro_350, aro_350]),
]

W, H = 1215, 1682
fig = plt.figure(figsize=(W / 100, H / 100), dpi=100)

col_left = [80, 674]
ax_w, ax_h = 524, 290.2
row_top0, row_step = 14.1, 330.2


def decade_label(v, pos):
    e = int(round(np.log10(v)))
    return "$10^{%d}$" % e if e % 2 == 0 else ""


for label, col, row, series in panels:
    top = row_top0 + row * row_step
    ax = fig.add_axes([col_left[col] / W, 1 - (top + ax_h) / H, ax_w / W, ax_h / H])
    for vals, name, c in zip(series, species, colors):
        ax.plot(time, vals, color=c, lw=3.2, label=name)

    ax.set_xscale("log")
    ax.set_xlim(1e-8, 1e4)
    ax.set_ylim(-0.05, 1.05)
    ax.xaxis.set_major_locator(FixedLocator(10.0 ** np.arange(-8, 5)))
    ax.xaxis.set_major_formatter(FuncFormatter(decade_label))
    ax.xaxis.set_minor_locator(LogLocator(base=10, subs=np.arange(2, 10), numticks=200))
    ax.xaxis.set_minor_formatter(NullFormatter())
    ax.set_yticks([0, 0.2, 0.4, 0.6, 0.8, 1.0])
    ax.yaxis.set_major_formatter(FuncFormatter(lambda v, p: "%.1f" % v))
    ax.yaxis.set_minor_locator(MultipleLocator(0.05))
    ax.tick_params(which="major", length=6.3, width=1.0, labelsize=12)
    ax.tick_params(which="minor", length=3.3, width=0.9)
    for sp in ax.spines.values():
        sp.set_linewidth(1.2)

    ax.text(0.963, 0.878, label, transform=ax.transAxes, ha="right", va="center",
            fontsize=23.5, family=["Liberation Serif", "DejaVu Serif"])
    if col == 0:
        ax.set_ylabel("Molar fraction", fontsize=13)
    if row == 4:
        ax.set_xlabel("Time (s)", fontsize=13)

handles = [Line2D([], [], color=c, lw=3.2) for c in colors]
fig.legend(handles, species, loc="upper left", bbox_to_anchor=(658 / W, 1 - 55.3 / H),
           frameon=False, fontsize=11.5, handlelength=2.3, handletextpad=0.7,
           labelspacing=0.47, borderpad=0, borderaxespad=0)

fig.savefig("out.png", dpi=100)
